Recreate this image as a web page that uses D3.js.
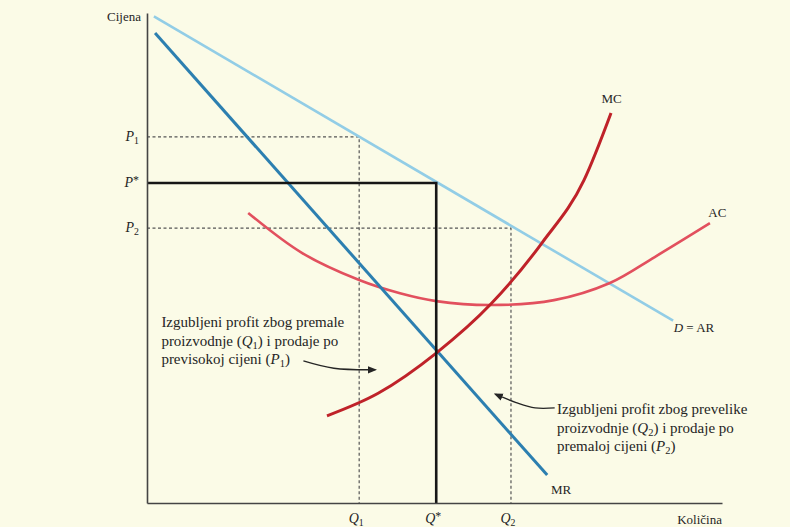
<!DOCTYPE html>
<html>
<head>
<meta charset="utf-8">
<script src="https://cdn.jsdelivr.net/npm/d3@7"></script>
<style>
  html, body { margin: 0; padding: 0; background: #fbfbe7; }
  svg { display: block; }
</style>
</head>
<body>
<svg id="chart" width="790" height="527"></svg>
<script>
// ---- data (quantity units 0..10, price units 0..10) ----
const qTicks = [3.69, 5.03, 6.33];           // Q1, Q*, Q2
const qLabels = [["Q", "1"], ["Q", "*"], ["Q", "2"]];
const pTicks = [7.47, 6.53, 5.61];           // P1, P*, P2
const pLabels = [["P", "1"], ["P", "*"], ["P", "2"]];

const demand = [[0.12, 9.93], [9.15, 3.72]];           // D = AR
const marginalRevenue = [[0.14, 9.59], [6.96, 0.57]];   // MR
const marginalCost = [[3.13, 1.78], [4.02, 2.24], [5.03, 3.06], [5.98, 4.06],
                      [6.87, 5.31], [7.60, 6.59], [8.07, 7.96]];
const averageCost = [[1.76, 5.92], [2.70, 5.10], [3.69, 4.55], [4.40, 4.28], [5.03, 4.12],
                     [5.98, 4.04], [7.08, 4.14], [8.05, 4.49], [8.83, 5.02], [9.79, 5.71]];

const curveLabels = [
  { text: "MC", at: [8.08, 8.17], anchor: "middle" },
  { text: "AC", at: [9.92, 5.84], anchor: "middle" },
  { text: "MR", at: [7.20, 0.18], anchor: "middle" }
];

const note1 = ["Izgubljeni profit zbog premale",
               ["proizvodnje (", ["Q", "1"], ") i prodaje po"],
               ["previsokoj cijeni (", ["P", "1"], ")"]];
const note2 = ["Izgubljeni profit zbog prevelike",
               ["proizvodnje (", ["Q", "2"], ") i prodaje po"],
               ["premaloj cijeni (", ["P", "2"], ")"]];

const FONT = "'Liberation Serif', 'Times New Roman', 'DejaVu Serif', serif";
const INK = "#252525";

// ---- layout ----
const svg = d3.select("#chart");
const x = d3.scaleLinear().domain([0, 10]).range([147, 722]);
const y = d3.scaleLinear().domain([0, 10]).range([503, 13]);

svg.append("rect").attr("x", 0).attr("y", 0).attr("width", 790).attr("height", 527).attr("fill", "#fbfbe7");

const line = d3.line().x(d => x(d[0])).y(d => y(d[1]));
const smooth = d3.line().x(d => x(d[0])).y(d => y(d[1])).curve(d3.curveMonotoneX);
const curvy = d3.line().x(d => x(d[0])).y(d => y(d[1])).curve(d3.curveCatmullRom.alpha(0.5));

// dashed guides P1/Q1 and P2/Q2
[[0, 0], [2, 2]].forEach(([pi, qi]) => {
  svg.append("path")
    .attr("d", line([[0, pTicks[pi]], [qTicks[qi], pTicks[pi]], [qTicks[qi], 0]]))
    .attr("fill", "none").attr("stroke", "#555").attr("stroke-width", 1.2)
    .attr("stroke-dasharray", "3,2.5");
});

// curves
svg.append("path").attr("d", line(demand)).attr("fill", "none")
  .attr("stroke", "#92cde6").attr("stroke-width", 2.6);
svg.append("path").attr("d", curvy(averageCost)).attr("fill", "none")
  .attr("stroke", "#e2505e").attr("stroke-width", 2.6);
svg.append("path").attr("d", line(marginalRevenue)).attr("fill", "none")
  .attr("stroke", "#2c7fb0").attr("stroke-width", 3);
svg.append("path").attr("d", smooth(marginalCost)).attr("fill", "none")
  .attr("stroke", "#bf2229").attr("stroke-width", 3);

// P*/Q* solid
svg.append("path")
  .attr("d", line([[0, pTicks[1]], [qTicks[1], pTicks[1]], [qTicks[1], 0]]))
  .attr("fill", "none").attr("stroke", "#161616").attr("stroke-width", 2.6);

// axes
const yAxis = d3.axisLeft(y).tickValues([]).tickSizeOuter(0);
const xAxis = d3.axisBottom(x).tickValues([]).tickSizeOuter(0);
svg.append("g").attr("transform", `translate(${x(0)},0)`).call(yAxis)
  .select(".domain").attr("stroke", "#444").attr("stroke-width", 1.6);
svg.append("g").attr("transform", `translate(0,${y(0)})`).call(xAxis)
  .select(".domain").attr("stroke", "#444").attr("stroke-width", 1.6);

function txt(px, py, size) {
  return svg.append("text").attr("x", px).attr("y", py)
    .attr("font-family", FONT).attr("font-size", size).attr("fill", INK);
}

// italic letter with subscript
function subLabel(sel, parts, size) {
  sel.append("tspan").attr("font-style", "italic").text(parts[0]);
  if (parts[1] === "*") {
    sel.append("tspan").attr("font-size", size * 0.85).attr("dy", -size * 0.25).text("*");
  } else {
    sel.append("tspan").attr("font-size", size * 0.7).attr("dy", size * 0.22).text(parts[1]);
  }
}

// tick labels
pTicks.forEach((p, i) => {
  const t = txt(x(0) - 8, y(p) + 4, 14).attr("text-anchor", "end");
  subLabel(t, pLabels[i], 14);
});
qTicks.forEach((q, i) => {
  const t = txt(x(q) - 3, y(0) + 20, 14).attr("text-anchor", "middle");
  subLabel(t, qLabels[i], 14);
});

// axis titles
txt(x(0) - 6, y(10) + 8, 13).attr("text-anchor", "end").text("Cijena");
txt(x(10), y(0) + 21, 13).attr("text-anchor", "end").text("Količina");

// curve labels
curveLabels.forEach(c => {
  txt(x(c.at[0]), y(c.at[1]), 13).attr("text-anchor", c.anchor).text(c.text);
});
const dl = txt(x(9.16), y(3.5), 13);
dl.append("tspan").attr("font-style", "italic").text("D");
dl.append("tspan").text(" = AR");

// notes
function note(lines, qx, py) {
  lines.forEach((ln, i) => {
    const t = txt(x(qx), y(py) + i * 18.5, 15);
    if (typeof ln === "string") { t.text(ln); return; }
    let shift = 0;
    ln.forEach(part => {
      if (typeof part === "string") {
        t.append("tspan").attr("dy", -shift).text(part);
        shift = 0;
      } else {
        t.append("tspan").attr("font-style", "italic").text(part[0]);
        t.append("tspan").attr("font-size", 10.5).attr("dy", 3).text(part[1]);
        shift = 3;
      }
    });
  });
}
note(note1, 0.25, 3.59);
note(note2, 7.13, 1.81);

// arrows
svg.append("defs").append("marker").attr("id", "ah").attr("viewBox", "0 0 10 10")
  .attr("refX", 8).attr("refY", 5).attr("markerWidth", 7).attr("markerHeight", 7)
  .attr("orient", "auto")
  .append("path").attr("d", "M0,1 L10,5 L0,9 Z").attr("fill", INK);

const arrow1 = [[2.72, 2.90], [3.25, 2.75], [3.97, 2.72]];
const arrow2 = [[7.09, 1.94], [6.75, 1.94], [6.42, 2.05], [6.06, 2.22]];
svg.append("path").attr("d", curvy(arrow1)).attr("fill", "none")
  .attr("stroke", INK).attr("stroke-width", 1.3).attr("marker-end", "url(#ah)");
svg.append("path").attr("d", curvy(arrow2)).attr("fill", "none")
  .attr("stroke", INK).attr("stroke-width", 1.3).attr("marker-end", "url(#ah)");
</script>
</body>
</html>
